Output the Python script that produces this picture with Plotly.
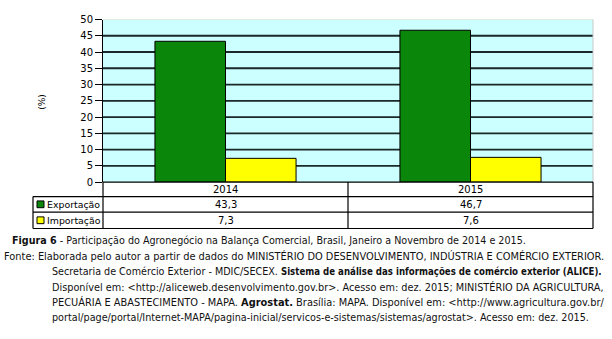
import plotly.graph_objects as go

# Participação do agronegócio na balança comercial (%)
anos = ["2014", "2015"]
exportacao = [43.3, 46.7]
importacao = [7.3, 7.6]
series_nomes = ["Exportação", "Importação"]
y_ticks = [0, 5, 10, 15, 20, 25, 30, 35, 40, 45, 50]

W, H = 612, 339
FONT = "DejaVu Sans, sans-serif"
VERDE = "#0A870A"
AMARELO = "#FFFF00"


def px(x):
    return x / W


def py(y):
    return 1 - y / H


# plot area in pixels
X0, X1 = 103, 593
Y_TOP, Y_BOT = 15, 183
# table rows
ROWS = [183, 198, 214, 231]
LEG_X0 = 33

fig = go.Figure()
fig.add_bar(x=anos, y=exportacao, name=series_nomes[0],
            marker=dict(color=VERDE, line=dict(color="#000000", width=1)))
fig.add_bar(x=anos, y=importacao, name=series_nomes[1],
            marker=dict(color=AMARELO, line=dict(color="#000000", width=1)))

fig.update_layout(
    width=W, height=H,
    margin=dict(l=0, r=0, t=0, b=0),
    paper_bgcolor="white",
    plot_bgcolor="#CCFFFF",
    barmode="group",
    bargap=0.424,
    bargroupgap=0,
    showlegend=False,
    font=dict(family=FONT, size=10, color="#000000"),
    xaxis=dict(domain=[px(X0), px(X1)], type="category", showticklabels=False, ticks="",
               showgrid=False, showline=False, zeroline=False, fixedrange=True),
    yaxis=dict(domain=[py(Y_BOT), py(Y_TOP)], range=[0, 50], tickvals=y_ticks,
               ticks="outside", ticklen=7, tickcolor="#000000", tickwidth=1,
               showline=True, linecolor="#000000", linewidth=1,
               showgrid=False, zeroline=False, tickfont=dict(size=10, family=FONT),
               fixedrange=True),
)

shapes = []
# horizontal grid lines behind the bars
for v in y_ticks[1:-1]:
    shapes.append(dict(type="line", xref="paper", yref="y",
                       x0=px(X0), x1=px(X1), y0=v, y1=v, layer="below",
                       line=dict(color="#1A2828", width=1.8)))
# light frame on top and right of the plot area
shapes.append(dict(type="line", xref="paper", yref="y",
                   x0=px(X0), x1=px(X1), y0=y_ticks[-1], y1=y_ticks[-1],
                   line=dict(color="#D8D8B8", width=1.2), layer="above"))
shapes.append(dict(type="line", xref="paper", yref="paper",
                   x0=px(X1), x1=px(X1), y0=py(Y_TOP), y1=py(Y_BOT),
                   line=dict(color="#C8C8C8", width=1), layer="above"))
# table: horizontal lines
shapes.append(dict(type="line", xref="paper", yref="paper",
                   x0=px(X0), x1=px(X1), y0=py(ROWS[0]), y1=py(ROWS[0]),
                   line=dict(color="#000000", width=1.3), layer="above"))
for r in ROWS[1:]:
    shapes.append(dict(type="line", xref="paper", yref="paper",
                       x0=px(LEG_X0), x1=px(X1), y0=py(r), y1=py(r),
                       line=dict(color="#000000", width=1.2)))
# table: vertical lines
for xv, ytop in [(X0, ROWS[0]), ((X0 + X1) / 2, ROWS[0]), (X1, ROWS[0]), (LEG_X0, ROWS[1])]:
    shapes.append(dict(type="line", xref="paper", yref="paper",
                       x0=px(xv), x1=px(xv), y0=py(ytop), y1=py(ROWS[3]),
                       line=dict(color="#000000", width=1.2)))
# legend keys
for i, cor in enumerate([VERDE, AMARELO]):
    yc = (ROWS[i + 1] + ROWS[i + 2]) / 2
    shapes.append(dict(type="rect", xref="paper", yref="paper",
                       x0=px(37), x1=px(44), y0=py(yc + 3.5), y1=py(yc - 3.5),
                       fillcolor=cor, line=dict(color="#000000", width=1)))

annotations = []
# y-axis title
annotations.append(dict(text="(%)", xref="paper", yref="paper", x=px(42), y=py(100),
                        xanchor="center", yanchor="middle",
                        showarrow=False, textangle=-90, font=dict(size=9, family=FONT)))
# table header and values
linhas = [exportacao, importacao]
for j, ano in enumerate(anos):
    annotations.append(dict(text=ano, xref="x", yref="paper", x=j,
                            y=py((ROWS[0] + ROWS[1]) / 2 + 0.5), showarrow=False,
                            font=dict(size=10, family=FONT)))
    for i, vals in enumerate(linhas):
        yc = (ROWS[i + 1] + ROWS[i + 2]) / 2 + 0.5
        annotations.append(dict(text=f"{vals[j]:.1f}".replace(".", ","), xref="x",
                                yref="paper", x=j, y=py(yc), showarrow=False,
                                font=dict(size=10, family=FONT)))
for i, nome in enumerate(series_nomes):
    yc = (ROWS[i + 1] + ROWS[i + 2]) / 2 + 0.5
    annotations.append(dict(text=nome, xref="paper", yref="paper", x=px(45), y=py(yc),
                            xanchor="left", showarrow=False,
                            font=dict(size=9.4, family=FONT)))

# caption (x, y, size, text)
BC = '<span style="font-family:DejaVu Sans Condensed"><b>{}</b></span>'
legenda = [
    (10, 243, 9.6, "<b>Figura 6</b> - Participação do Agronegócio na Balança Comercial, Brasil, Janeiro a Novembro de 2014 e 2015."),
    (2, 259, 9.84, "Fonte: Elaborada pelo autor a partir de dados do MINISTÉRIO DO DESENVOLVIMENTO, INDÚSTRIA E COMÉRCIO EXTERIOR."),
    (50, 275, 9.6, "Secretaria de Comércio Exterior - MDIC/SECEX. "
     + BC.format("Sistema de análise das informações de comércio exterior (ALICE).")),
    (50, 291, 9.72, "Disponível em: &lt;http://aliceweb.desenvolvimento.gov.br&gt;. Acesso em: dez. 2015; MINISTÉRIO DA AGRICULTURA,"),
    (50, 307, 9.83, "PECUÁRIA E ABASTECIMENTO - MAPA. <b>Agrostat.</b> Brasília: MAPA. Disponível em: &lt;http://www.agricultura.gov.br/"),
    (50, 323, 9.65, "portal/page/portal/Internet-MAPA/pagina-inicial/servicos-e-sistemas/sistemas/agrostat&gt;. Acesso em: dez. 2015."),
]
for x, y, s, t in legenda:
    annotations.append(dict(text=t, xref="paper", yref="paper", x=px(x), y=py(y),
                            xanchor="left", yanchor="middle", showarrow=False,
                            font=dict(size=s, family=FONT, color="#111111")))

fig.update_layout(shapes=shapes, annotations=annotations)
fig.write_html("out.html")
